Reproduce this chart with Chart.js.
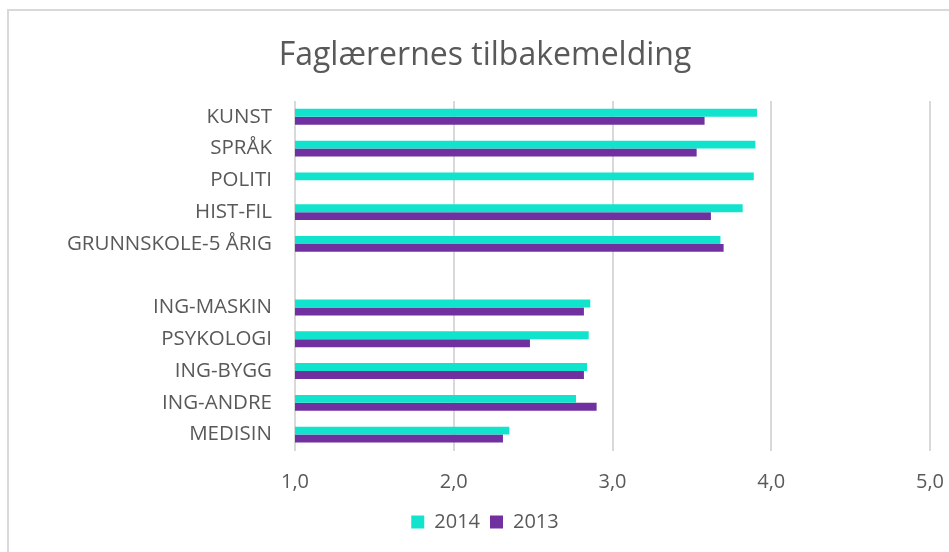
<!DOCTYPE html>
<html>
<head>
<meta charset="utf-8">
<script src="https://cdn.jsdelivr.net/npm/chart.js@4.4.1/dist/chart.umd.min.js"></script>
<style>
    html, body { margin: 0; padding: 0; background: #ffffff; }
    #wrap { position: relative; width: 949px; height: 552px; overflow: hidden; }
    /* ramme rundt diagrammet, som i Excel-utsnittet */
    #frame { position: absolute; left: 7px; top: 9px; width: 1000px; height: 600px; border: 2px solid #d9d9d9; box-sizing: border-box; }
    #chart { position: absolute; left: 0; top: 0; }
</style>
</head>
<body>
<div id="wrap">
    <div id="frame"></div>
    <canvas id="chart" width="949" height="552"></canvas>
</div>
<script>
// Kategorier (tom rad skiller de to gruppene)
const categories = ['KUNST', 'SPRÅK', 'POLITI', 'HIST-FIL', 'GRUNNSKOLE-5 ÅRIG', '',
    'ING-MASKIN', 'PSYKOLOGI', 'ING-BYGG', 'ING-ANDRE', 'MEDISIN'];

// Verdier per år
const values2014 = [3.91, 3.90, 3.89, 3.82, 3.68, null, 2.86, 2.85, 2.84, 2.77, 2.35];
const values2013 = [3.58, 3.53, null, 3.62, 3.70, null, 2.82, 2.48, 2.82, 2.90, 2.31];

// Akseverdier
const xTicks = [1, 2, 3, 4, 5];

const textColor = '#595959';
const fontFamily = '"Open Sans", sans-serif';

new Chart(document.getElementById('chart'), {
    type: 'bar',
    data: {
        labels: categories,
        datasets: [{
            label: '2014',
            data: values2014,
            backgroundColor: '#12e3cc',
            borderWidth: 0,
            barPercentage: 1,
            categoryPercentage: 0.5
        }, {
            label: '2013',
            data: values2013,
            backgroundColor: '#7030a0',
            borderWidth: 0,
            barPercentage: 1,
            categoryPercentage: 0.5
        }]
    },
    options: {
        indexAxis: 'y',
        responsive: false,
        animation: false,
        layout: {
            padding: { left: 40, right: 19, top: 10, bottom: 10 }
        },
        scales: {
            x: {
                min: xTicks[0],
                max: xTicks[xTicks.length - 1],
                afterBuildTicks: function(scale) {
                    scale.ticks = xTicks.map(v => ({ value: v }));
                },
                afterFit: function(scale) {
                    scale.height = 51.5;
                    // siste etikett får stikke utenfor plottet, som i Excel
                    scale.paddingLeft = 0;
                    scale.paddingRight = 0;
                },
                grid: {
                    color: '#d9d9d9',
                    lineWidth: 2,
                    drawTicks: false
                },
                border: { display: false },
                ticks: {
                    padding: 20,
                    color: textColor,
                    font: { family: fontFamily, size: 20 },
                    callback: v => v.toFixed(1).replace('.', ',')
                }
            },
            y: {
                afterFit: function(scale) {
                    scale.width = 255;
                },
                grid: { display: false },
                border: { display: false },
                ticks: {
                    padding: 15,
                    color: textColor,
                    autoSkip: false,
                    font: { family: fontFamily, size: 20.5 }
                }
            }
        },
        plugins: {
            title: {
                display: true,
                text: 'Faglærernes tilbakemelding',
                color: textColor,
                font: { family: fontFamily, size: 32, weight: 'normal' },
                padding: { top: 27, bottom: 25.5 }
            },
            legend: {
                position: 'bottom',
                labels: {
                    color: textColor,
                    boxWidth: 13,
                    boxHeight: 13,
                    padding: 10,
                    font: { family: fontFamily, size: 20 }
                }
            },
            tooltip: { enabled: false }
        }
    }
});
</script>
</body>
</html>
